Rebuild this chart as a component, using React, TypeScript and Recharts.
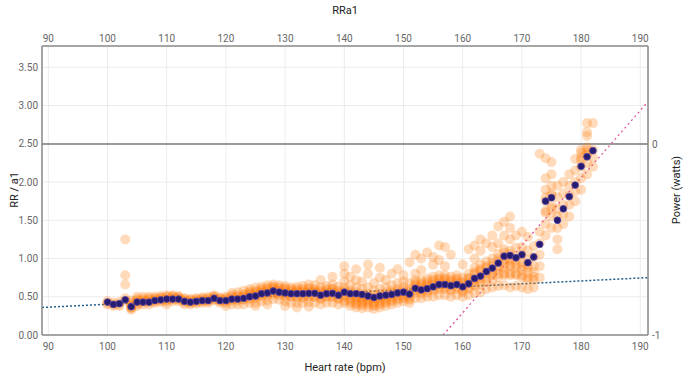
import React from 'react';
import { ComposedChart, Scatter, XAxis, YAxis, CartesianGrid, ReferenceLine } from 'recharts';

const hrTicks = [90, 100, 110, 120, 130, 140, 150, 160, 170, 180, 190];
const rrTicks = [0, 0.5, 1, 1.5, 2, 2.5, 3, 3.5];
const powerTicks = [-1, 0];

// mean RR/a1 per heart-rate bin [hr, rr]
const meanPoints: [number, number][] = [
  [100, 0.43], [101, 0.40], [102, 0.41], [103, 0.46], [104, 0.37], [105, 0.43], [106, 0.43], [107, 0.43],
  [108, 0.45], [109, 0.46], [110, 0.47], [111, 0.47], [112, 0.47], [113, 0.44], [114, 0.43], [115, 0.44],
  [116, 0.45], [117, 0.45], [118, 0.48], [119, 0.45], [120, 0.45], [121, 0.47], [122, 0.47], [123, 0.48],
  [124, 0.50], [125, 0.51], [126, 0.54], [127, 0.55], [128, 0.575], [129, 0.56], [130, 0.55], [131, 0.54],
  [132, 0.54], [133, 0.54], [134, 0.545], [135, 0.545], [136, 0.52], [137, 0.54], [138, 0.545], [139, 0.52],
  [140, 0.56], [141, 0.54], [142, 0.54], [143, 0.53], [144, 0.51], [145, 0.49], [146, 0.51], [147, 0.52],
  [148, 0.53], [149, 0.55], [150, 0.56], [151, 0.535], [152, 0.61], [153, 0.59], [154, 0.605], [155, 0.63],
  [156, 0.66], [157, 0.66], [158, 0.645], [159, 0.66], [160, 0.63], [161, 0.67], [162, 0.74], [163, 0.77],
  [164, 0.83], [165, 0.875], [166, 0.94], [167, 1.03], [168, 1.04], [169, 1.01], [170, 1.05], [171, 0.945],
  [172, 1.02], [173, 1.185], [174, 1.75], [175, 1.795], [176, 1.50], [177, 1.65], [178, 1.81], [179, 1.96],
  [180, 2.205], [181, 2.33], [182, 2.41],
];

// raw RR/a1 samples per heart rate (spread)
const cloud: [number, number[]][] = [
  [100, [0.42, 0.44, 0.40]],
  [101, [0.38, 0.42, 0.40]],
  [102, [0.40, 0.43, 0.38]],
  [103, [0.45, 0.48, 0.78, 0.66, 1.25]],
  [104, [0.33, 0.36, 0.40, 0.37, 0.45]],
  [105, [0.42, 0.47, 0.50, 0.38, 0.44]],
  [106, [0.40, 0.45, 0.50, 0.43]],
  [107, [0.40, 0.46, 0.50, 0.43]],
  [108, [0.42, 0.47, 0.50, 0.44]],
  [109, [0.43, 0.48, 0.51, 0.45]],
  [110, [0.44, 0.49, 0.52, 0.46, 0.40]],
  [111, [0.44, 0.50, 0.52, 0.47]],
  [112, [0.44, 0.49, 0.51, 0.47]],
  [113, [0.40, 0.45, 0.48, 0.43]],
  [114, [0.40, 0.44, 0.47, 0.42]],
  [115, [0.41, 0.45, 0.48, 0.43]],
  [116, [0.42, 0.46, 0.49, 0.44]],
  [117, [0.42, 0.47, 0.50, 0.44]],
  [118, [0.45, 0.50, 0.52, 0.47]],
  [119, [0.42, 0.46, 0.49, 0.44]],
  [120, [0.42, 0.47, 0.50, 0.44, 0.38]],
  [121, [0.40, 0.46, 0.52, 0.48, 0.55]],
  [122, [0.40, 0.45, 0.52, 0.48, 0.56]],
  [123, [0.40, 0.46, 0.53, 0.50, 0.58]],
  [124, [0.42, 0.47, 0.55, 0.52, 0.60]],
  [125, [0.42, 0.48, 0.56, 0.52, 0.62, 0.38]],
  [126, [0.44, 0.50, 0.58, 0.55, 0.63]],
  [127, [0.45, 0.52, 0.60, 0.56, 0.65, 0.40]],
  [128, [0.47, 0.53, 0.62, 0.58, 0.66]],
  [129, [0.46, 0.52, 0.60, 0.57, 0.65]],
  [130, [0.44, 0.50, 0.60, 0.55, 0.64, 0.38]],
  [131, [0.42, 0.50, 0.58, 0.54, 0.62]],
  [132, [0.42, 0.49, 0.58, 0.55, 0.63, 0.36]],
  [133, [0.42, 0.48, 0.58, 0.54, 0.64]],
  [134, [0.43, 0.50, 0.60, 0.55, 0.66, 0.37]],
  [135, [0.42, 0.50, 0.58, 0.55, 0.65]],
  [136, [0.40, 0.47, 0.56, 0.52, 0.62, 0.72]],
  [137, [0.42, 0.50, 0.58, 0.54, 0.64]],
  [138, [0.42, 0.50, 0.60, 0.55, 0.66, 0.76]],
  [139, [0.40, 0.47, 0.56, 0.52, 0.63]],
  [140, [0.42, 0.50, 0.62, 0.56, 0.70, 0.80, 0.90]],
  [141, [0.38, 0.45, 0.52, 0.58, 0.65, 0.76]],
  [142, [0.36, 0.42, 0.48, 0.56, 0.62, 0.72, 0.86]],
  [143, [0.35, 0.42, 0.47, 0.54, 0.60, 0.70]],
  [144, [0.36, 0.43, 0.48, 0.54, 0.62, 0.80, 0.92]],
  [145, [0.34, 0.40, 0.46, 0.52, 0.58, 0.68]],
  [146, [0.36, 0.42, 0.48, 0.54, 0.60, 0.75, 0.88]],
  [147, [0.38, 0.44, 0.50, 0.56, 0.62, 0.72]],
  [148, [0.40, 0.46, 0.52, 0.58, 0.65, 0.80]],
  [149, [0.42, 0.48, 0.55, 0.60, 0.68, 0.86]],
  [150, [0.44, 0.50, 0.56, 0.62, 0.70, 0.78]],
  [151, [0.42, 0.48, 0.54, 0.60, 0.68, 0.95]],
  [152, [0.48, 0.55, 0.60, 0.66, 0.72, 0.80, 1.05]],
  [153, [0.48, 0.54, 0.60, 0.65, 0.72, 0.85, 1.00]],
  [154, [0.50, 0.56, 0.62, 0.67, 0.74, 1.08]],
  [155, [0.50, 0.58, 0.64, 0.70, 0.76, 0.92, 1.02]],
  [156, [0.52, 0.60, 0.66, 0.72, 0.78, 0.98, 1.17]],
  [157, [0.52, 0.60, 0.66, 0.72, 0.78, 0.90, 1.15]],
  [158, [0.50, 0.58, 0.64, 0.70, 0.76, 1.05]],
  [159, [0.52, 0.60, 0.66, 0.72, 0.78]],
  [160, [0.50, 0.56, 0.62, 0.68, 0.75, 0.92]],
  [161, [0.52, 0.60, 0.67, 0.74, 0.80, 1.12]],
  [162, [0.55, 0.64, 0.72, 0.80, 0.88, 1.00, 1.17]],
  [163, [0.56, 0.66, 0.75, 0.84, 0.92, 1.10, 1.25]],
  [164, [0.60, 0.70, 0.80, 0.88, 0.96, 1.20]],
  [165, [0.62, 0.72, 0.82, 0.90, 1.00, 1.15, 1.30]],
  [166, [0.64, 0.76, 0.88, 0.96, 1.06, 1.20, 1.42]],
  [167, [0.65, 0.80, 0.92, 1.02, 1.12, 1.30, 1.48]],
  [168, [0.62, 0.78, 0.90, 1.00, 1.10, 1.25, 1.40, 1.55]],
  [169, [0.64, 0.80, 0.92, 1.02, 1.14, 1.30]],
  [170, [0.62, 0.78, 0.90, 1.05, 1.15, 1.35]],
  [171, [0.60, 0.75, 0.88, 0.98, 1.10, 1.28]],
  [172, [0.62, 0.76, 0.90, 1.02, 1.16]],
  [173, [0.75, 0.90, 1.05, 1.20, 1.35, 2.37]],
  [174, [1.30, 1.45, 1.60, 1.75, 1.90, 2.05, 2.31]],
  [175, [1.40, 1.55, 1.70, 1.82, 1.95, 2.10, 2.26]],
  [176, [1.12, 1.25, 1.40, 1.55, 1.65, 1.80, 1.95]],
  [177, [1.45, 1.58, 1.70, 1.85, 2.00]],
  [178, [1.55, 1.70, 1.82, 1.95, 2.10]],
  [179, [1.75, 1.88, 2.00, 2.15, 2.30]],
  [180, [1.90, 2.05, 2.20, 2.32, 2.42]],
  [181, [2.10, 2.25, 2.38, 2.45, 2.60, 2.65, 2.77]],
  [182, [2.20, 2.32, 2.42, 2.77]],
];

// additional samples in the densest band
const cloudCore: [number, number[]][] = [
  [104, [0.35, 0.39, 0.42]], [105, [0.40, 0.45]], [106, [0.44, 0.47]], [107, [0.44, 0.48]],
  [108, [0.45, 0.48]], [109, [0.46, 0.49]], [110, [0.46, 0.50]], [111, [0.47, 0.50]],
  [112, [0.46, 0.49]], [113, [0.44, 0.47]], [114, [0.43, 0.46]], [115, [0.44, 0.47]],
  [116, [0.45, 0.48]], [117, [0.45, 0.48]], [118, [0.47, 0.50]], [119, [0.45, 0.48]],
  [120, [0.45, 0.48]], [121, [0.45, 0.50]], [122, [0.46, 0.50]], [123, [0.47, 0.52]],
  [124, [0.48, 0.53, 0.57]], [125, [0.50, 0.54, 0.58]], [126, [0.52, 0.56, 0.60]], [127, [0.53, 0.58, 0.62]],
  [128, [0.55, 0.60, 0.63]], [129, [0.54, 0.58, 0.62]], [130, [0.52, 0.57, 0.61]], [131, [0.51, 0.56, 0.60]],
  [132, [0.50, 0.56, 0.60]], [133, [0.50, 0.56, 0.60]], [134, [0.51, 0.56, 0.61]], [135, [0.50, 0.56, 0.60]],
  [136, [0.48, 0.54, 0.58]], [137, [0.50, 0.55, 0.60]], [138, [0.50, 0.56, 0.60]], [139, [0.48, 0.54, 0.58]],
  [140, [0.45, 0.52, 0.58]], [141, [0.42, 0.48, 0.55]], [142, [0.40, 0.45, 0.50, 0.53]], [143, [0.39, 0.44, 0.49, 0.52]],
  [144, [0.40, 0.45, 0.50]], [145, [0.38, 0.43, 0.48]], [146, [0.40, 0.45, 0.50]], [147, [0.42, 0.47, 0.52]],
  [148, [0.44, 0.50, 0.55]], [149, [0.46, 0.52, 0.57]], [150, [0.48, 0.53, 0.58]], [151, [0.46, 0.52, 0.57]],
  [152, [0.58, 0.63, 0.68]], [153, [0.57, 0.62, 0.68]], [154, [0.58, 0.64, 0.70]], [155, [0.60, 0.66, 0.72]],
  [156, [0.62, 0.68, 0.74]], [157, [0.62, 0.68, 0.74]], [158, [0.60, 0.67, 0.72]], [159, [0.62, 0.68, 0.74]],
  [160, [0.58, 0.64, 0.70]], [161, [0.62, 0.68, 0.74]], [162, [0.66, 0.74, 0.82]], [163, [0.70, 0.78, 0.86]],
  [164, [0.74, 0.82, 0.90]], [165, [0.78, 0.86, 0.94]], [166, [0.80, 0.90, 1.00]], [167, [0.78, 0.88, 0.98, 1.08]],
  [168, [0.80, 0.90, 0.98, 1.06]], [169, [0.78, 0.88, 0.98]], [170, [0.75, 0.85, 0.95]], [171, [0.72, 0.82, 0.92]],
  [172, [0.72, 0.82]], [174, [1.62, 1.80]], [175, [1.65, 1.85]], [180, [2.28, 2.38]], [181, [2.35, 2.42]],
];

// fitted trend lines (hr, rr)
const lowTrend: [number, number][] = [[88.93, 0.36], [191.3, 0.75]];
const highTrend: [number, number][] = [[156.7, 0], [191.3, 3.05]];

const cloudData = [...cloud, ...cloudCore].flatMap(([hr, vals]) => vals.map((v) => ({ hr, rr: v })));
const meanData = meanPoints.map(([hr, rr]) => ({ hr, rr }));

const tickStyle = { fontSize: 10, fill: '#666', fontFamily: 'Roboto, sans-serif' };
const axisStroke = '#8a8a8a';

const CloudDot = (p: any) => (
  <circle cx={p.cx} cy={p.cy} r={5} fill="#ff7f0e" fillOpacity={0.28} />
);
const MeanDot = (p: any) => (
  <circle cx={p.cx} cy={p.cy} r={3.4} fill="#261b6e" stroke="#5548a8" strokeWidth={0.8} />
);

export default function App() {
  return (
    <div style={{ position: 'absolute', left: 0, top: 0, width: 690, height: 380, background: '#fff' }}>
      <ComposedChart width={690} height={380} margin={{ top: 0, right: 0, bottom: 0, left: 0 }}>
        <CartesianGrid xAxisId="b" yAxisId="l" stroke="#ececec" />
        <XAxis
          xAxisId="b"
          dataKey="hr"
          type="number"
          domain={[88.93, 191.3]}
          allowDataOverflow
          ticks={hrTicks}
          height={45}
          tickSize={0}
          tickMargin={8}
          tick={tickStyle}
          axisLine={{ stroke: axisStroke, strokeWidth: 1.5 }}
          tickLine={false}
          label={{
            content: () => (
              <text x={345} y={371} textAnchor="middle" fontSize={11} fill="#222" fontFamily="Roboto, sans-serif">
                Heart rate (bpm)
              </text>
            ),
          }}
        />
        <XAxis
          xAxisId="t"
          dataKey="hr"
          orientation="top"
          type="number"
          domain={[88.93, 191.3]}
          allowDataOverflow
          ticks={hrTicks}
          height={46}
          tickSize={0}
          tickMargin={4}
          tick={tickStyle}
          axisLine={{ stroke: axisStroke, strokeWidth: 1.5 }}
          tickLine={false}
          label={{
            content: () => (
              <text x={345} y={14} textAnchor="middle" fontSize={11} fill="#222" fontFamily="Roboto, sans-serif">
                RRa1
              </text>
            ),
          }}
        />
        <YAxis
          yAxisId="l"
          type="number"
          domain={[0, 3.778]}
          allowDataOverflow
          ticks={rrTicks}
          width={42}
          tickSize={0}
          tickMargin={4}
          tick={tickStyle}
          tickFormatter={(v: number) => v.toFixed(2)}
          axisLine={{ stroke: axisStroke, strokeWidth: 1.5 }}
          tickLine={false}
          label={{
            content: () => (
              <text x={18} y={190} transform="rotate(-90 18 190)" textAnchor="middle" fontSize={11} fill="#222" fontFamily="Roboto, sans-serif">
                RR / a1
              </text>
            ),
          }}
        />
        <YAxis
          yAxisId="r"
          orientation="right"
          type="number"
          domain={[-1, 0.513]}
          allowDataOverflow
          ticks={powerTicks}
          width={42}
          tickSize={0}
          tickMargin={4}
          tick={tickStyle}
          axisLine={{ stroke: axisStroke, strokeWidth: 1.5 }}
          tickLine={false}
          label={{
            content: () => (
              <text x={680} y={190} transform="rotate(-90 680 190)" textAnchor="middle" fontSize={11} fill="#222" fontFamily="Roboto, sans-serif">
                Power (watts)
              </text>
            ),
          }}
        />
        <ReferenceLine xAxisId="b" yAxisId="r" y={0} stroke="#7a7a7a" strokeWidth={1.5} />
        <Scatter
          xAxisId="t"
          yAxisId="l"
          data={cloudData}
          dataKey="rr"
          shape={CloudDot}
          isAnimationActive={false}
        />
        <ReferenceLine
          xAxisId="b"
          yAxisId="l"
          segment={lowTrend.map(([x, y]) => ({ x, y }))}
          stroke="#1f5e8c"
          strokeWidth={1.5}
          strokeDasharray="2 2"
        />
        <ReferenceLine
          xAxisId="b"
          yAxisId="l"
          segment={highTrend.map(([x, y]) => ({ x, y }))}
          stroke="#e0559e"
          strokeWidth={1.3}
          strokeDasharray="2 3"
        />
        <Scatter
          xAxisId="b"
          yAxisId="l"
          data={meanData}
          dataKey="rr"
          shape={MeanDot}
          isAnimationActive={false}
        />
      </ComposedChart>
    </div>
  );
}
